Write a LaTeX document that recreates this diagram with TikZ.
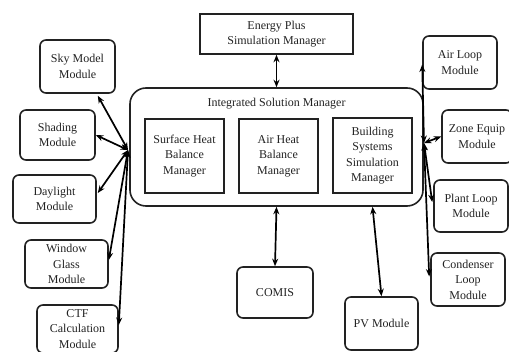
\documentclass[tikz,border=0pt]{standalone}
\usepackage{fontspec}
\setmainfont{Liberation Serif}
\usetikzlibrary{arrows.meta,calc}
\definecolor{ink}{HTML}{222222}
\begin{document}
\begin{tikzpicture}[x=1pt,y=-1pt,
  every node/.style={font=\fontsize{12}{15.5}\selectfont, align=center, inner sep=0pt, text=ink},
  rbox/.style={draw=ink, line width=1.6pt, rounded corners=6pt},
  sbox/.style={draw=ink, line width=1.6pt},
  link/.style={draw=black, line width=1.7pt, {Stealth[length=7.5pt,width=6pt]}-{Stealth[length=7.5pt,width=6pt]}}]
\useasboundingbox (0,0) rectangle (509,352);
% main
\node[sbox, minimum width=153pt, minimum height=40pt] (ep) at (276.5,34) {Energy Plus\\Simulation Manager};
\node[rbox, rounded corners=16pt, minimum width=293pt, minimum height=118pt] (ism) at (276.5,147) {};
\node (ismt) at (276.5,104) {Integrated Solution Manager};
\node[sbox, minimum width=79pt, minimum height=74pt] (shb) at (184.5,156) {Surface Heat\\Balance\\Manager};
\node[sbox, minimum width=79pt, minimum height=74pt] (ahb) at (278.5,156) {Air Heat\\Balance\\Manager};
\node[sbox, minimum width=79pt, minimum height=75pt] (bss) at (372.5,155.5) {Building\\Systems\\Simulation\\Manager};
% left modules
\node[rbox, minimum width=75pt, minimum height=53pt] (sky) at (77.5,66.5) {Sky Model\\Module};
\node[rbox, minimum width=75pt, minimum height=50pt] (shad) at (57.5,135) {Shading\\Module};
\node[rbox, minimum width=83pt, minimum height=48pt] (day) at (54.5,199) {Daylight\\Module};
\node[rbox, minimum width=83pt, minimum height=48pt] (win) at (66.5,264) {Window\\Glass\\Module};
\node[rbox, minimum width=81pt, minimum height=48pt] (ctf) at (77.5,329) {CTF\\Calculation\\Module};
% right modules
\node[rbox, minimum width=74pt, minimum height=53pt] (air) at (460,62.5) {Air Loop\\Module};
\node[rbox, minimum width=70pt, minimum height=53pt] (zone) at (477,136.5) {Zone Equip\\Module};
\node[rbox, minimum width=74pt, minimum height=52pt] (plant) at (471,206) {Plant Loop\\Module};
\node[rbox, minimum width=74pt, minimum height=53pt] (cond) at (468,279.5) {Condenser\\Loop\\Module};
% bottom modules
\node[rbox, minimum width=76pt, minimum height=51pt] (comis) at (275,292.5) {COMIS};
\node[rbox, minimum width=73pt, minimum height=53pt] (pv) at (381.5,323.5) {PV Module};
% hubs
\coordinate (lh) at (128,150);
\coordinate (rh) at (424,143);
% connectors
\draw[link] (ep.south) -- (ism.north);
\draw[link] (ism.south) -- (comis.north);
\draw[link] ($(ism.south)+(96,0)$) -- (pv.north);
\draw[link] (lh) -- ($(sky.south east)+(-18,2)$);
\draw[link] (lh) -- (shad.east);
\draw[link] (lh) -- ($(day.east)+(1,-6)$);
\draw[link] (lh) -- ($(win.east)+(0,-4)$);
\draw[link] (lh) -- ($(ctf.east)+(0,-4)$);
\draw[link] (rh) -- ($(air.west)+(0,2)$);
\draw[link] (rh) -- (zone.west);
\draw[link] (rh) -- ($(plant.west)+(-1,-4)$);
\draw[link] (rh) -- ($(cond.west)+(-1,-3)$);
\end{tikzpicture}
\end{document}
